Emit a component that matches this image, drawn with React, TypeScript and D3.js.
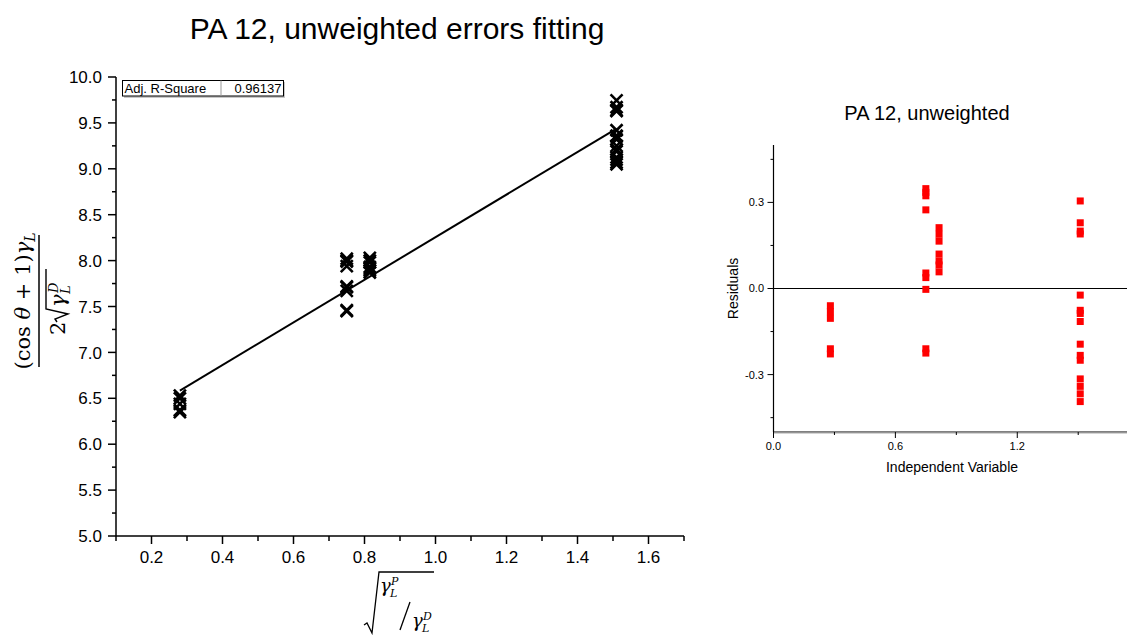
import React from "react";
import * as d3 from "d3";

// ---- Data ----
const clusterX = [0.28, 0.75, 0.815, 1.51];
const clusterY: number[][] = [
  [6.53, 6.5, 6.44, 6.37, 6.35],
  [8.02, 8.0, 7.99, 7.94, 7.72, 7.71, 7.67, 7.46, 7.45],
  [8.03, 8.0, 7.98, 7.93, 7.91, 7.89, 7.87],
  [9.745, 9.67, 9.64, 9.63, 9.42, 9.36, 9.35, 9.32, 9.25, 9.21, 9.19, 9.125, 9.1, 9.07, 9.05],
];
const residuals: number[][] = [
  [-0.06, -0.081, -0.104, -0.21, -0.228],
  [0.348, 0.335, 0.323, 0.274, 0.054, 0.038, -0.003, -0.21, -0.225],
  [0.212, 0.189, 0.165, 0.12, 0.096, 0.082, 0.058],
  [0.305, 0.229, 0.2, 0.19, -0.023, -0.076, -0.087, -0.115, -0.194, -0.233, -0.25, -0.315, -0.341, -0.367, -0.394],
];
const fitIntercept = 5.935;
const fitSlope = 2.32;
const fitRange = [0.28, 1.51];
const adjR2 = "0.96137";

const mainXMajor = [0.2, 0.4, 0.6, 0.8, 1.0, 1.2, 1.4, 1.6];
const mainXMinor = [0.1, 0.3, 0.5, 0.7, 0.9, 1.1, 1.3, 1.5, 1.7];
const mainYMajor = [5.0, 5.5, 6.0, 6.5, 7.0, 7.5, 8.0, 8.5, 9.0, 9.5, 10.0];
const mainYMinor = [5.25, 5.75, 6.25, 6.75, 7.25, 7.75, 8.25, 8.75, 9.25, 9.75];
const resXMajor = [0.0, 0.6, 1.2];
const resXMinor = [0.3, 0.9, 1.5];
const resYMajor = [-0.3, 0.0, 0.3];
const resYMinor = [-0.45, -0.15, 0.15, 0.45];

const SANS = "'Liberation Sans', Arial, sans-serif";
const SERIF = "'DejaVu Serif', 'Liberation Serif', serif";

export default function App() {
  const x = d3.scaleLinear().domain([0.1, 1.7]).range([116, 684]);
  const y = d3.scaleLinear().domain([5, 10]).range([536, 77]);
  const rx = d3.scaleLinear().domain([0, 1.75]).range([773.5, 1129]);
  const ry = d3.scaleLinear().domain([-0.5, 0.5]).range([432, 145]);

  const fitLine = d3
    .line<number>()
    .x((d) => x(d))
    .y((d) => y(fitIntercept + fitSlope * d))(fitRange);

  const xs = 6;
  return (
    <svg
      width={1127}
      height={635}
      style={{ position: "absolute", left: 0, top: 0, background: "#fff" }}
      fontFamily={SANS}
    >
      <rect width={1127} height={635} fill="#fff" />
      {/* Main title */}
      <text x={397} y={39} textAnchor="middle" fontSize={30}>
        PA 12, unweighted errors fitting
      </text>

      {/* Main axes */}
      <line x1={x(0.1)} x2={x(1.7)} y1={536} y2={536} stroke="#000" strokeWidth={1.5} />
      <line x1={116} x2={116} y1={y(10)} y2={536} stroke="#000" strokeWidth={1.5} />
      {mainXMajor.map((t) => (
        <g key={"xm" + t}>
          <line x1={x(t)} x2={x(t)} y1={536} y2={544} stroke="#000" strokeWidth={1.5} />
          <text x={x(t)} y={563} textAnchor="middle" fontSize={17}>
            {t.toFixed(1)}
          </text>
        </g>
      ))}
      {mainXMinor.map((t) => (
        <line key={"xn" + t} x1={x(t)} x2={x(t)} y1={536} y2={541} stroke="#000" strokeWidth={1.5} />
      ))}
      {mainYMajor.map((t) => (
        <g key={"ym" + t}>
          <line x1={108} x2={116} y1={y(t)} y2={y(t)} stroke="#000" strokeWidth={1.5} />
          <text x={102} y={y(t)} dy="0.36em" textAnchor="end" fontSize={17}>
            {t.toFixed(1)}
          </text>
        </g>
      ))}
      {mainYMinor.map((t) => (
        <line key={"yn" + t} x1={112} x2={116} y1={y(t)} y2={y(t)} stroke="#000" strokeWidth={1.5} />
      ))}

      {/* Fit line */}
      <path d={fitLine || ""} fill="none" stroke="#000" strokeWidth={2} />

      {/* Data markers */}
      {clusterX.map((cx, i) =>
        clusterY[i].map((v, j) => (
          <path
            key={`p${i}-${j}`}
            d={`M${x(cx) - xs},${y(v) - xs}L${x(cx) + xs},${y(v) + xs}M${x(cx) - xs},${y(v) + xs}L${x(cx) + xs},${y(v) - xs}`}
            stroke="#000"
            strokeWidth={2.6}
            fill="none"
          />
        ))
      )}

      {/* Adj R-Square box */}
      <rect x={124} y={82} width={161} height={16} fill="#c8c8c8" />
      <rect x={122.5} y={80.5} width={161} height={15.5} fill="#fff" stroke="#000" strokeWidth={1} />
      <line x1={221} x2={221} y1={80.5} y2={96} stroke="#999" strokeWidth={1} />
      <text x={124.5} y={92.8} fontSize={13}>
        Adj. R-Square
      </text>
      <text x={281.5} y={92.8} fontSize={13} textAnchor="end">
        {adjR2}
      </text>

      {/* Y axis label (math) */}
      <g transform="translate(39,301) rotate(-90)" fontFamily={SERIF}>
        <text x={0} y={-9} textAnchor="middle" fontSize={21}>
          (cos <tspan fontStyle="italic">θ</tspan> + 1)<tspan fontStyle="italic">γ</tspan>
          <tspan fontStyle="italic" fontSize={14} dy={5}>L</tspan>
        </text>
        <line x1={-66} x2={66} y1={0} y2={0} stroke="#000" strokeWidth={1.5} />
        <text x={-34} y={26} fontSize={21}>2</text>
        <path d="M-21,18 L-18,16 L-13,29 L-8,7 L32,7" fill="none" stroke="#000" strokeWidth={1.4} />
        <text x={-6} y={26} fontSize={21} fontStyle="italic">γ</text>
        <text x={7} y={31} fontSize={13} fontStyle="italic">L</text>
        <text x={8} y={19} fontSize={13} fontStyle="italic">D</text>
      </g>

      {/* X axis label (math) */}
      <g fontFamily={SERIF}>
        <path d="M364,625 L367,623 L372,633 L379,572 L434,572" fill="none" stroke="#000" strokeWidth={1.3} />
        <text x={380} y={592} fontSize={18} fontStyle="italic">γ</text>
        <text x={390} y={597} fontSize={11} fontStyle="italic">L</text>
        <text x={391} y={585} fontSize={11} fontStyle="italic">P</text>
        <line x1={400} x2={410} y1={630} y2={602} stroke="#000" strokeWidth={1.3} />
        <text x={412} y={627} fontSize={18} fontStyle="italic">γ</text>
        <text x={422} y={632} fontSize={11} fontStyle="italic">L</text>
        <text x={423} y={620} fontSize={11} fontStyle="italic">D</text>
      </g>

      {/* Residuals plot */}
      <text x={927} y={120} textAnchor="middle" fontSize={20}>
        PA 12, unweighted
      </text>
      <line x1={773.5} x2={773.5} y1={145} y2={432} stroke="#000" strokeWidth={1.2} />
      <line x1={773.5} x2={1127} y1={432} y2={432} stroke="#000" strokeWidth={1} />
      <line x1={773.5} x2={1127} y1={433} y2={433} stroke="#aaa" strokeWidth={1} />
      <line x1={773.5} x2={1127} y1={ry(0)} y2={ry(0)} stroke="#000" strokeWidth={1.2} />
      {resYMajor.map((t) => (
        <g key={"rym" + t}>
          <line x1={767.5} x2={773.5} y1={ry(t)} y2={ry(t)} stroke="#000" strokeWidth={1} />
          <text x={764} y={ry(t)} dy="0.36em" textAnchor="end" fontSize={11}>
            {t.toFixed(1)}
          </text>
        </g>
      ))}
      {resYMinor.map((t) => (
        <line key={"ryn" + t} x1={770.5} x2={773.5} y1={ry(t)} y2={ry(t)} stroke="#000" strokeWidth={1} />
      ))}
      {resXMajor.map((t) => (
        <g key={"rxm" + t}>
          <line x1={rx(t)} x2={rx(t)} y1={432} y2={438} stroke="#000" strokeWidth={1} />
          <text x={rx(t)} y={450} textAnchor="middle" fontSize={11}>
            {t.toFixed(1)}
          </text>
        </g>
      ))}
      {resXMinor.map((t) => (
        <line key={"rxn" + t} x1={rx(t)} x2={rx(t)} y1={432} y2={435} stroke="#000" strokeWidth={1} />
      ))}
      <text transform={`translate(738,${ry(0)}) rotate(-90)`} textAnchor="middle" fontSize={14}>
        Residuals
      </text>
      <text x={952} y={472} textAnchor="middle" fontSize={14}>
        Independent Variable
      </text>
      {clusterX.map((cx, i) =>
        residuals[i].map((r, j) => (
          <rect
            key={`r${i}-${j}`}
            x={rx(cx) - 3.5}
            y={ry(r) - 3.5}
            width={7}
            height={7}
            fill="#ff0000"
          />
        ))
      )}
    </svg>
  );
}
